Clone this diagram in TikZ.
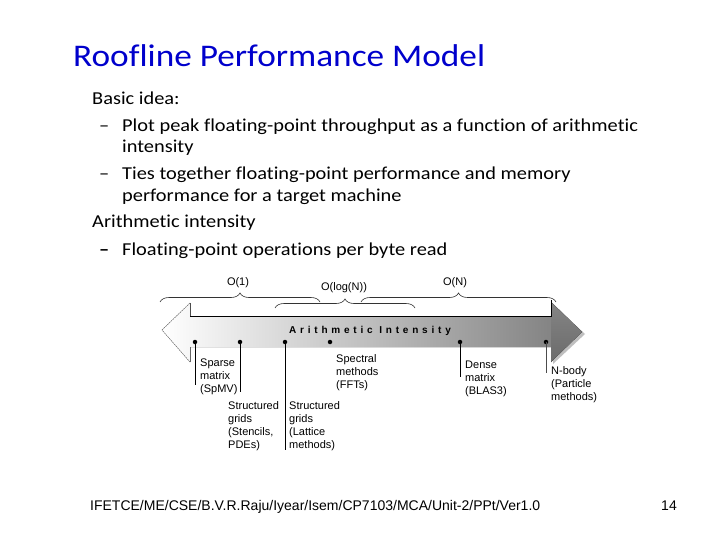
\documentclass[tikz,border=0pt]{standalone}
\usepackage{fontspec}
\setmainfont{Carlito}[FakeStretch=1.12, Ligatures={NoCommon}]
\newfontfamily\arial{Liberation Sans}
\newfontfamily\arialsp{Liberation Sans}[LetterSpace=38]
\usetikzlibrary{decorations.pathreplacing}
\definecolor{titleblue}{RGB}{0,0,204}
\begin{document}
\begin{tikzpicture}[x=1pt,y=1pt,
  lbl/.style={font=\arial\fontsize{11}{13}\selectfont, align=left, anchor=north west, inner sep=0pt},
  body/.style={font=\fontsize{18.2}{22}\selectfont, anchor=base west, inner sep=0pt},
  dotnode/.style={circle, fill=black, inner sep=0pt, minimum size=4.5pt},
  brc/.style={decorate, decoration={brace, amplitude=9pt}, draw=black!80, line width=0.6pt},
  stem/.style={draw=black, line width=0.8pt},
  blbl/.style={font=\arial\fontsize{11}{13}\selectfont, inner sep=0pt}]
\useasboundingbox (0,0) rectangle (720,-540);
\fill[white] (0,0) rectangle (720,-540);

% title and bullets
\node[font=\fontsize{31.5}{36}\selectfont, text=titleblue, anchor=base west, inner sep=0pt] (title) at (73,-67) {Roofline Performance Model};
\node[body] (b1) at (92,-105) {Basic idea:};
\node[body] (d1a) at (99,-131.5) {–};
\node[body] (b2) at (122,-131.5) {Plot peak floating-point throughput as a function of arithmetic};
\node[body] (b2b) at (122,-153) {intensity};
\node[body] (d2a) at (99,-180) {–};
\node[body] (b3) at (122,-180) {Ties together floating-point performance and memory};
\node[body] (b3b) at (122,-202) {performance for a target machine};
\node[body] (b4) at (92,-228) {Arithmetic intensity};
\node[body, font=\bfseries\fontsize{18.2}{22}\selectfont] (d3a) at (99,-255) {–};
\node[body] (b5) at (122,-255) {Floating-point operations per byte read};

% arrow body
\fill[left color=white, right color=black!52]
  (162,-330) -- (190,-303) -- (190,-316) -- (551,-316) -- (551,-302) -- (582,-332)
  -- (551,-362) -- (551,-347) -- (190,-347) -- (190,-362) -- cycle;
% right head shadow and fill
\fill[black!25] (553,-304) -- (585,-334) -- (553,-364) -- cycle;
\fill[top color=black!48, bottom color=black!58] (551,-302) -- (582,-332) -- (551,-362) -- cycle;
% left head dashed outline
\draw[black!55, line width=0.5pt, dash pattern=on 1.5pt off 1pt] (190,-303) -- (162,-330) -- (190,-362);
\draw[black!60, line width=0.6pt] (190,-347) -- (190,-362);
\draw[black!70, line width=0.6pt] (190,-303) -- (190,-316);
\draw[black, line width=1pt] (190,-316) -- (551,-316) -- (551,-300);

\node[font=\arialsp\bfseries\fontsize{10}{12}\selectfont, inner sep=0pt] (ai) at (370,-331) {Arithmetic Intensity};

% braces
\coordinate (o1l) at (160,-302);
\coordinate (o1r) at (320,-302);
\coordinate (onl) at (361,-302);
\coordinate (onr) at (556,-302);
\coordinate (oll) at (275,-308);
\coordinate (olr) at (415,-308);
\draw[brc] (o1l) -- (o1r);
\draw[brc] (onl) -- (onr);
\draw[brc] (oll) -- (olr);
\node[blbl] (o1) at (238,-283) {O(1)};
\node[blbl] (olog) at (344,-288) {O(log(N))};
\node[blbl] (on) at (455,-283) {O(N)};

% dots and stems
\node[dotnode] (p1) at (195,-342) {};
\node[dotnode] (p2) at (240,-342) {};
\node[dotnode] (p3) at (285,-342) {};
\node[dotnode] (p4) at (330,-342) {};
\node[dotnode] (p5) at (460,-342) {};
\node[dotnode] (p6) at (546,-342) {};
\coordinate (e1) at (195,-385);
\coordinate (e2) at (240,-392);
\coordinate (e3) at (285,-450);
\coordinate (e5) at (460,-377);
\coordinate (e6) at (546,-373);
\draw[stem] (p1.center) -- (e1);
\draw[stem] (p2.center) -- (e2);
\draw[stem] (p3.center) -- (e3);
\draw[stem] (p5.center) -- (e5);
\draw[stem, black!70] (p6.center) -- (e6);

% labels
\node[lbl] (l1) at (200,-359) {Sparse\\matrix\\(SpMV)};
\node[lbl] (l2) at (228,-401) {Structured\\grids\\(Stencils,\\PDEs)};
\node[lbl] (l3) at (289,-401) {Structured\\grids\\(Lattice\\methods)};
\node[lbl] (l4) at (336,-354) {Spectral\\methods\\(FFTs)};
\node[lbl] (l5) at (465,-361) {Dense\\matrix\\(BLAS3)};
\node[lbl] (l6) at (551,-366) {N-body\\(Particle\\methods)};

% footer
\node[font=\arial\fontsize{14}{16}\selectfont, anchor=base west, inner sep=0pt] (foot) at (90,-510) {IFETCE/ME/CSE/B.V.R.Raju/Iyear/Isem/CP7103/MCA/Unit-2/PPt/Ver1.0};
\node[font=\arial\fontsize{14}{16}\selectfont, anchor=base east, inner sep=0pt] (pg) at (677,-510) {14};
\end{tikzpicture}
\end{document}
